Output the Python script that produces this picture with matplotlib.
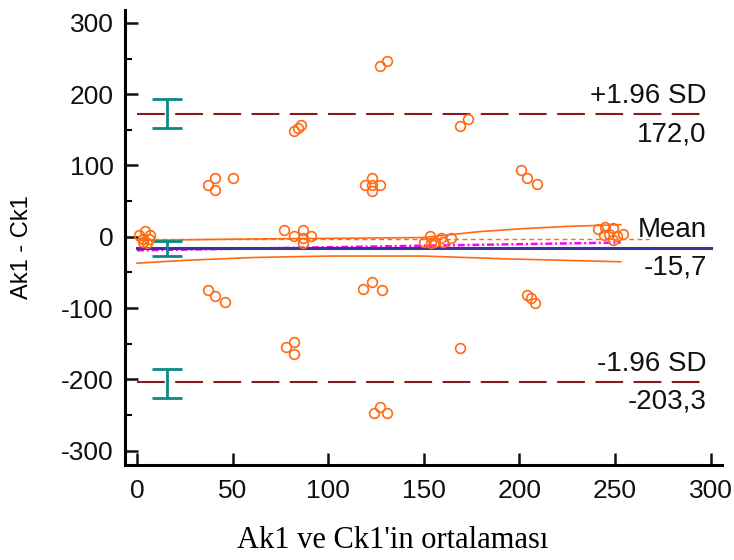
import matplotlib

matplotlib.use("Agg")
import matplotlib.pyplot as plt
import numpy as np

# Bland-Altman: Ak1 vs Ck1
MEAN_DIFF = -15.7
UPPER_LOA = 172.0
LOWER_LOA = -203.3

# 95% CI bars (lower, upper) for +1.96 SD, mean, -1.96 SD
CI_X = 15.5
CI_LO = [152, -27.6, -226]
CI_HI = [193, -5.6, -185]

# points: average (x) and difference (y)
avg = [1, 4, 7, 3, 6, 3, 5,
       77, 82, 87, 87, 91, 87,
       150, 153, 156, 159, 160, 164, 154,
       241, 245, 249, 247, 249, 254, 251, 244,
       127, 131, 82, 84, 86, 169, 173,
       37, 41, 41, 50, 119, 123, 123, 127, 123,
       201, 204, 209,
       37, 41, 46, 118, 123, 128, 78, 82, 82,
       124, 127, 131, 204, 206, 208, 169]
diff = [3, 8, 3, -3, -3, -7, -9,
        10, 1, 10, -2, 1, -9,
        -7, 1, -7, -2, -7, -2, -9,
        11, 14, 12, 4, -5, 4, 1, 2,
        240, 247, 148, 153, 157, 155, 165,
        73, 82, 65, 82, 73, 82, 64, 73, 73,
        93, 83, 74,
        -74, -83, -92, -73, -64, -74, -155, -148, -165,
        -247, -239, -247, -81, -86, -93, -156]

# regression line of differences and its confidence band
reg_x = [0, 253]
reg_y = [-19, -8]
band_up_x = [0, 60, 110, 150, 178, 199, 224, 253]
band_up_y = [-5, -3, -2, -1, 7, 11, 14.5, 17]
band_lo_x = [0, 25, 61, 100, 150, 194, 253]
band_lo_y = [-37, -33, -29, -27, -27, -31, -35]
zero_ref_x = [0, 268]
zero_ref_y = [-3, -3]

ORANGE = "#ff6a13"
DARKRED = "#8b1a1a"
NAVY = "#35359a"
TEAL = "#0a8a84"
MAGENTA = "#ff00ff"

plt.rcParams["font.family"] = ["Liberation Sans", "DejaVu Sans"]
plt.rcParams["lines.scale_dashes"] = False
plt.rcParams["axes.unicode_minus"] = False

fig = plt.figure(figsize=(7.34, 5.6), dpi=100)
ax = fig.add_axes([0.1703, 0.1696, 0.8134, 0.8125])

ax.plot(zero_ref_x, zero_ref_y, color=ORANGE, lw=1.0, ls=(0, (3.5, 2.5)), zorder=2)
ax.plot(band_up_x, band_up_y, color=ORANGE, lw=1.2, zorder=2)
ax.plot(band_lo_x, band_lo_y, color=ORANGE, lw=1.2, zorder=2)
ax.plot(reg_x, reg_y, color=MAGENTA, lw=1.8, ls=(0, (5, 2, 1.5, 2)), zorder=2)

for yv in (UPPER_LOA, LOWER_LOA):
    ax.plot([0, 298], [yv, yv], color=DARKRED, lw=1.5, ls=(0, (20, 7.5)), zorder=2)
ax.plot([0, 300], [MEAN_DIFF, MEAN_DIFF], color=NAVY, lw=2.2, zorder=3)

lo = np.array(CI_LO)
hi = np.array(CI_HI)
ax.errorbar([CI_X] * 3, (lo + hi) / 2, yerr=(hi - lo) / 2, fmt="none",
            ecolor=TEAL, elinewidth=2.0, capsize=11, capthick=2.0, zorder=4)

ax.plot(avg, diff, ls="none", marker="o", ms=7, mfc="none", mec=ORANGE,
        mew=1.2, zorder=5)

# labels on the right
txt = dict(ha="right", fontsize=20, color="#111111", textcoords="offset points")
ax.annotate("+1.96 SD", (298, UPPER_LOA), xytext=(0, 8), va="baseline", **txt)
ax.annotate("172,0", (298, UPPER_LOA), xytext=(0, -5), va="top", **txt)
ax.annotate("Mean", (298, MEAN_DIFF), xytext=(0, 8), va="baseline", **txt)
ax.annotate("-15,7", (298, MEAN_DIFF), xytext=(0, -5), va="top", **txt)
ax.annotate("-1.96 SD", (298, LOWER_LOA), xytext=(0, 8), va="baseline", **txt)
ax.annotate("-203,3", (298, LOWER_LOA), xytext=(0, -5), va="top", **txt)

ax.set_xlim(-6.3, 306)
ax.set_ylim(-320, 318)
ax.set_xticks(np.arange(0, 301, 50))
ax.set_yticks(np.arange(-300, 301, 100))
ax.set_yticks(np.arange(-250, 251, 100), minor=True)
ax.tick_params(axis="both", which="major", direction="in", length=9, width=1.8,
               labelsize=19, colors="#111111")
ax.tick_params(axis="y", which="major", pad=8)
ax.tick_params(axis="x", which="major", pad=10)
ax.tick_params(axis="y", which="minor", direction="in", length=5, width=1.5)
for s in ("top", "right"):
    ax.spines[s].set_visible(False)
for s in ("left", "bottom"):
    ax.spines[s].set_linewidth(2.2)

ax.set_ylabel("Ak1 - Ck1", fontsize=17, va="center")
ax.yaxis.set_label_coords(-0.1725, 0.479)
ax.set_xlabel("Ak1 ve Ck1'in ortalaması", fontsize=22, va="center",
              family=["Liberation Serif", "DejaVu Serif"])
ax.xaxis.set_label_coords(0.449, -0.165)

fig.savefig("out.png", dpi=100)
